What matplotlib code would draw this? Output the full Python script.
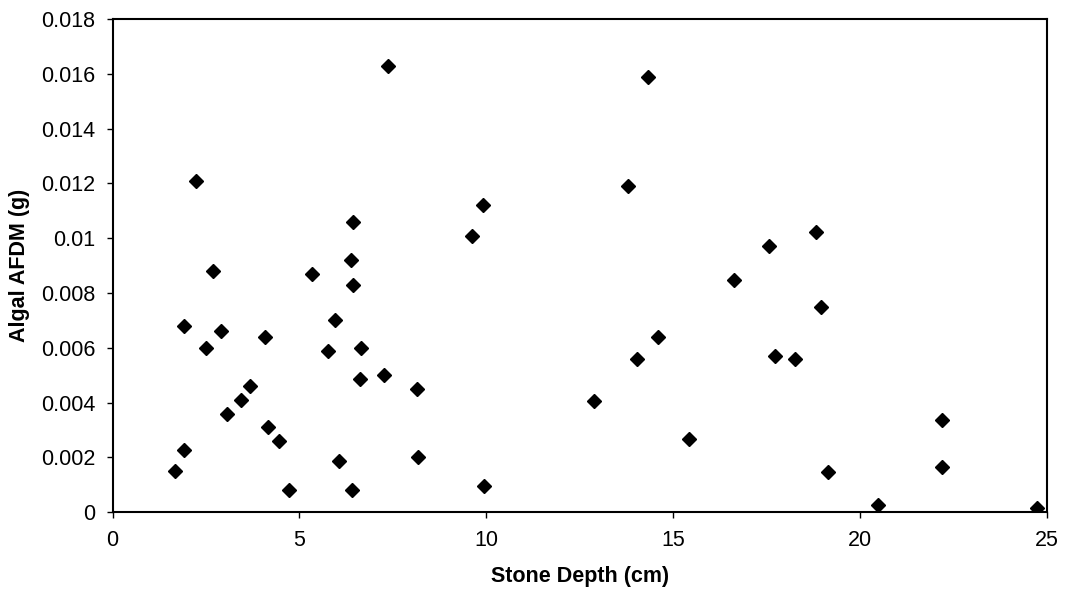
import matplotlib
matplotlib.use("Agg")
import matplotlib.pyplot as plt
from matplotlib.ticker import MultipleLocator, FuncFormatter

plt.rcParams['font.family'] = ['Liberation Sans', 'DejaVu Sans']

# Stone depth (cm) and algal AFDM (g)
depth = [1.66, 1.90, 1.90, 2.51, 2.89, 3.07, 3.43, 3.68, 4.09, 4.15, 4.46, 4.72,
         5.76, 5.96, 6.07, 6.40, 6.66, 6.61, 7.27, 8.16, 8.17, 9.94,
         2.24, 2.70, 5.35, 6.38, 6.44, 6.44, 7.38, 9.62, 9.92,
         18.97, 14.60, 14.04, 17.72, 18.27, 12.89, 15.43, 22.21, 19.14, 22.21, 20.48, 24.74,
         14.32, 13.80, 18.82, 17.58, 16.64]
afdm = [0.0015, 0.00228, 0.0068, 0.0060, 0.0066, 0.0036, 0.0041, 0.0046, 0.0064, 0.0031, 0.0026, 0.0008,
        0.0059, 0.0070, 0.00187, 0.0008, 0.0060, 0.00486, 0.0050, 0.0045, 0.0020, 0.00097,
        0.01209, 0.00881, 0.00869, 0.0092, 0.0106, 0.0083, 0.0163, 0.0101, 0.0112,
        0.00750, 0.00640, 0.00558, 0.00571, 0.00558, 0.00407, 0.00269, 0.00337, 0.00146, 0.00166, 0.00025, 0.00014,
        0.0159, 0.01189, 0.01022, 0.0097, 0.00847]

fig = plt.figure(figsize=(10.68, 5.97), dpi=100)
ax = fig.add_axes([0.1054, 0.142, 0.8746, 0.826])

ax.plot(depth, afdm, linestyle='none', marker='D', markersize=7, color='black')

ax.set_xlim(0, 25)
ax.set_ylim(0, 0.018)
ax.xaxis.set_major_locator(MultipleLocator(5))
ax.yaxis.set_major_locator(MultipleLocator(0.002))
ax.yaxis.set_major_formatter(FuncFormatter(lambda v, p: '0' if abs(v) < 1e-12 else f'{v:.3f}'.rstrip('0')))

for s in ax.spines.values():
    s.set_linewidth(1.5)
    s.set_color('black')
ax.tick_params(direction='out', length=4.5, width=1, labelsize=15.5, colors='black', pad=8)

ax.set_xlabel('Stone Depth (cm)', fontsize=15.5, fontweight='bold', labelpad=11)
ax.set_ylabel('Algal AFDM (g)', fontsize=15.5, fontweight='bold', labelpad=8)

fig.savefig('out.png', dpi=100)
